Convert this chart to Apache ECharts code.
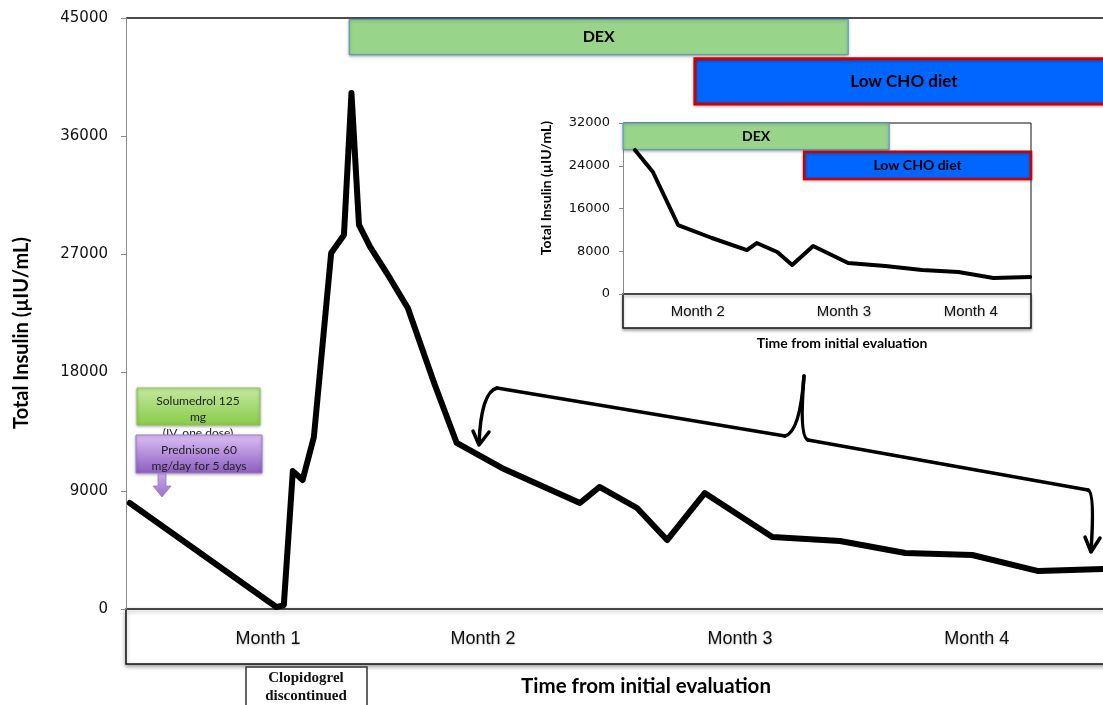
<!DOCTYPE html>
<html>
<head>
<meta charset="utf-8">
<script src="https://cdn.jsdelivr.net/npm/echarts@6/dist/echarts.min.js"></script>
<style>
html,body{margin:0;padding:0;background:#fff;overflow:hidden;width:1103px;height:705px;}
#chart{width:1113px;height:705px;}
</style>
</head>
<body>
<div id="chart"></div>
<script>
// ---- main chart data (days from initial evaluation, total insulin µIU/mL)
const mainDays = [0.5, 20, 21, 22.2, 23.5, 25, 27.3, 29, 30, 31, 32.5, 34.7, 37.5, 41, 44, 50, 60.4, 63, 68, 72, 77, 86, 95, 103.7, 112.6, 121.4, 130];
const mainInsulin = [8070, 150, 300, 10500, 9820, 13100, 27100, 28480, 39290, 29240, 27560, 25580, 22920, 17210, 12640, 10740, 8070, 9290, 7690, 5250, 8830, 5480, 5180, 4260, 4110, 2890, 3050];
const mainMonthPos = [18.9, 47.5, 81.7, 113.2];
const mainMonthLabels = ['Month 1', 'Month 2', 'Month 3', 'Month 4'];
const mainYTicks = [0, 9000, 18000, 27000, 36000, 45000];
const mainDex = [29.7, 96.1, 42200, 44900];
const mainLowCho = [75.7, 132, 38450, 41900];

// ---- inset data
const insetDays = [32.8, 37.0, 42.9, 50.8, 59.0, 61.3, 66.1, 69.6, 74.5, 82.7, 91.4, 100.0, 108.5, 116.7, 125.3];
const insetInsulin = [26950, 22830, 12910, 10480, 8230, 9540, 7860, 5430, 8980, 5800, 5240, 4490, 4120, 2990, 3180];
const insetMonthPos = [47.5, 81.7, 111.4];
const insetMonthLabels = ['Month 2', 'Month 3', 'Month 4'];
const insetYTicks = [0, 8000, 16000, 24000, 32000];
const insetDex = [30, 92.3, 27000, 32000];
const insetLowCho = [72.4, 125.5, 21500, 26600];

const chart = echarts.init(document.getElementById('chart'), null, {renderer: 'canvas'});

function pairs(xs, ys) { return xs.map((x, i) => [x, ys[i]]); }
function area(a, name, fill, border, bw, fs) {
  return [{
    name: name, xAxis: a[0], yAxis: a[3],
    itemStyle: {color: fill, borderColor: border, borderWidth: bw, shadowBlur: 3, shadowColor: 'rgba(0,0,0,0.3)', shadowOffsetY: 1},
    label: {show: true, position: 'inside', color: '#000', fontFamily: 'Lato', fontWeight: 'bold', fontSize: fs}
  }, {xAxis: a[1], yAxis: a[2]}];
}

const labelMaker = (pos, labels) => (v) => {
  const i = pos.findIndex(p => Math.abs(p - v) < 1e-6);
  return i >= 0 ? labels[i] : '';
};

const option = {
  animation: false,
  backgroundColor: '#fff',
  grid: [
    {left: 126, top: 18, right: 0, bottom: 96, containLabel: false},
    {left: 623, top: 123, width: 408, height: 171, containLabel: false}
  ],
  xAxis: [
    {gridIndex: 0, type: 'value', min: 0, max: 131.33,
      axisLine: {show: false}, axisTick: {show: false}, splitLine: {show: false},
      axisLabel: {customValues: mainMonthPos, formatter: labelMaker(mainMonthPos, mainMonthLabels),
        margin: 21, fontFamily: 'Liberation Sans', fontSize: 18, color: '#111',
        textShadowColor: 'rgba(0,0,0,0.25)', textShadowBlur: 2, textShadowOffsetY: 1}},
    {gridIndex: 1, type: 'value', min: 30, max: 125.5,
      axisLine: {show: false}, axisTick: {show: false}, splitLine: {show: false},
      axisLabel: {customValues: insetMonthPos, formatter: labelMaker(insetMonthPos, insetMonthLabels),
        margin: 10, fontFamily: 'Liberation Sans', fontSize: 15, color: '#111',
        textShadowColor: 'rgba(0,0,0,0.25)', textShadowBlur: 2, textShadowOffsetY: 1}}
  ],
  yAxis: [
    {gridIndex: 0, type: 'value', min: 0, max: 45000, interval: 9000,
      axisLine: {show: true, lineStyle: {color: '#8a8a8a', width: 1}},
      axisTick: {show: true, length: 5, lineStyle: {color: '#8a8a8a'}},
      splitLine: {show: false},
      axisLabel: {margin: 18, fontFamily: 'DejaVu Sans', fontSize: 15, color: '#111',
        formatter: v => mainYTicks.includes(v) ? String(v) : ''}},
    {gridIndex: 1, type: 'value', min: 0, max: 32000, interval: 8000,
      axisLine: {show: true, lineStyle: {color: '#8a8a8a', width: 1}},
      axisTick: {show: true, length: 4, lineStyle: {color: '#8a8a8a'}},
      splitLine: {show: false},
      axisLabel: {margin: 13, fontFamily: 'DejaVu Sans', fontSize: 13, color: '#111',
        formatter: v => insetYTicks.includes(v) ? String(v) : ''}}
  ],
  series: [
    {type: 'line', xAxisIndex: 0, yAxisIndex: 0, data: pairs(mainDays, mainInsulin),
      showSymbol: false, symbol: 'none', clip: false,
      lineStyle: {color: '#000', width: 6, join: 'round', cap: 'round'},
      markArea: {silent: true, data: [
        area(mainDex, 'DEX', '#98d48a', '#4b94c9', 1, 16),
        area(mainLowCho, 'Low CHO diet', '#0066ff', '#cc0000', 3, 17)
      ]}},
    {type: 'line', xAxisIndex: 1, yAxisIndex: 1, data: pairs(insetDays, insetInsulin),
      showSymbol: false, symbol: 'none',
      lineStyle: {color: '#000', width: 4, join: 'round', cap: 'round'},
      markArea: {silent: true, data: [
        area(insetDex, 'DEX', '#98d48a', '#4b94c9', 1, 14),
        area(insetLowCho, 'Low CHO diet', '#0066ff', '#cc0000', 2.5, 14)
      ]}}
  ],
  graphic: [
    // main x-axis box
    {type: 'rect', z: -1, shape: {x: 126, y: 609, width: 995, height: 55},
      style: {fill: '#fff', stroke: '#111', lineWidth: 1.5, shadowBlur: 4, shadowOffsetY: 2, shadowColor: 'rgba(0,0,0,0.35)'}},
    // main top frame line
    {type: 'line', shape: {x1: 126, y1: 18, x2: 1113, y2: 18}, style: {stroke: '#111', lineWidth: 1.5}},
    // inset frame
    {type: 'line', shape: {x1: 623, y1: 123, x2: 1031, y2: 123}, style: {stroke: '#111', lineWidth: 1}},
    {type: 'line', shape: {x1: 1031, y1: 123, x2: 1031, y2: 294}, style: {stroke: '#111', lineWidth: 1}},
    {type: 'rect', z: -1, shape: {x: 623, y: 294, width: 408, height: 34},
      style: {fill: '#fff', stroke: '#111', lineWidth: 1.5, shadowBlur: 3, shadowOffsetY: 2, shadowColor: 'rgba(0,0,0,0.3)'}},
    // axis titles
    {type: 'text', x: 22, y: 333, rotation: Math.PI / 2,
      style: {text: 'Total Insulin (µIU/mL)', font: 'bold 20px Lato', fill: '#000', align: 'center', verticalAlign: 'middle'}},
    {type: 'text', x: 646, y: 686,
      style: {text: 'Time from initial evaluation', font: 'bold 20.5px Lato', fill: '#000', align: 'center', verticalAlign: 'middle'}},
    {type: 'text', x: 546, y: 188, rotation: Math.PI / 2,
      style: {text: 'Total Insulin (µIU/mL)', font: 'bold 14px Lato', fill: '#000', align: 'center', verticalAlign: 'middle'}},
    {type: 'text', x: 842, y: 343,
      style: {text: 'Time from initial evaluation', font: 'bold 14px Lato', fill: '#000', align: 'center', verticalAlign: 'middle'}},
    // Solumedrol box
    {type: 'rect', shape: {x: 137, y: 388, width: 123, height: 37},
      style: {fill: {type: 'linear', x: 0, y: 0, x2: 0, y2: 1, colorStops: [{offset: 0, color: '#c4e9a0'}, {offset: 1, color: '#8acb48'}]},
        stroke: '#8fc657', lineWidth: 1, shadowBlur: 3, shadowOffsetY: 1, shadowColor: 'rgba(0,0,0,0.3)'}},
    {type: 'text', x: 198, y: 417,
      style: {text: 'Solumedrol 125\nmg\n(IV, one dose)', font: '12px Lato', lineHeight: 16, fill: '#222', align: 'center', verticalAlign: 'middle'}},
    // Prednisone box
    {type: 'rect', shape: {x: 136, y: 435, width: 126, height: 38},
      style: {fill: {type: 'linear', x: 0, y: 0, x2: 0, y2: 1, colorStops: [{offset: 0, color: '#dcc0f5'}, {offset: 1, color: '#8c5cc0'}]},
        stroke: '#a17ccf', lineWidth: 1, shadowBlur: 3, shadowOffsetY: 1, shadowColor: 'rgba(0,0,0,0.3)'}},
    {type: 'text', x: 199, y: 458,
      style: {text: 'Prednisone 60\nmg/day for 5 days', font: '12px Lato', lineHeight: 16, fill: '#222', align: 'center', verticalAlign: 'middle'}},
    {type: 'polygon', shape: {points: [[158, 474], [166, 474], [166, 486], [171, 486], [162, 497], [153, 486], [158, 486]]},
      style: {fill: {type: 'linear', x: 0, y: 0, x2: 0, y2: 1, colorStops: [{offset: 0, color: '#c8a6ea'}, {offset: 1, color: '#9a6fcc'}]}, stroke: '#9a76c8', lineWidth: 0.8}},
    // Clopidogrel box
    {type: 'rect', shape: {x: 246, y: 667, width: 121, height: 50},
      style: {fill: '#fff', stroke: '#333', lineWidth: 1.5}},
    {type: 'text', x: 306, y: 687,
      style: {text: 'Clopidogrel\ndiscontinued', font: 'bold 15px "Liberation Serif"', lineHeight: 18, fill: '#111', align: 'center', verticalAlign: 'middle'}},
    // curly brace with arrows
    {type: 'bezierCurve', shape: {x1: 479, y1: 444, x2: 497, y2: 388, cpx1: 481, cpy1: 392},
      style: {stroke: '#000', lineWidth: 3.5, fill: 'none', lineCap: 'round'}},
    {type: 'line', shape: {x1: 497, y1: 388, x2: 785, y2: 436}, style: {stroke: '#000', lineWidth: 3.5, lineCap: 'round'}},
    {type: 'bezierCurve', shape: {x1: 785, y1: 436, x2: 804, y2: 376, cpx1: 800, cpy1: 432},
      style: {stroke: '#000', lineWidth: 3.5, fill: 'none', lineCap: 'round'}},
    {type: 'bezierCurve', shape: {x1: 804, y1: 376, x2: 808, y2: 440, cpx1: 799, cpy1: 437},
      style: {stroke: '#000', lineWidth: 3.5, fill: 'none', lineCap: 'round'}},
    {type: 'line', shape: {x1: 808, y1: 440, x2: 1088, y2: 490}, style: {stroke: '#000', lineWidth: 3.5, lineCap: 'round'}},
    {type: 'bezierCurve', shape: {x1: 1088, y1: 490, x2: 1091, y2: 551, cpx1: 1095, cpy1: 492},
      style: {stroke: '#000', lineWidth: 3.5, fill: 'none', lineCap: 'round'}},
    {type: 'polyline', shape: {points: [[473, 431], [479, 445], [489, 432]]},
      style: {stroke: '#000', lineWidth: 3.5, fill: 'none', lineCap: 'round', lineJoin: 'round'}},
    {type: 'polyline', shape: {points: [[1085, 537], [1091, 552], [1100, 538]]},
      style: {stroke: '#000', lineWidth: 3.5, fill: 'none', lineCap: 'round', lineJoin: 'round'}}
  ]
};
chart.setOption(option);
</script>
</body>
</html>
